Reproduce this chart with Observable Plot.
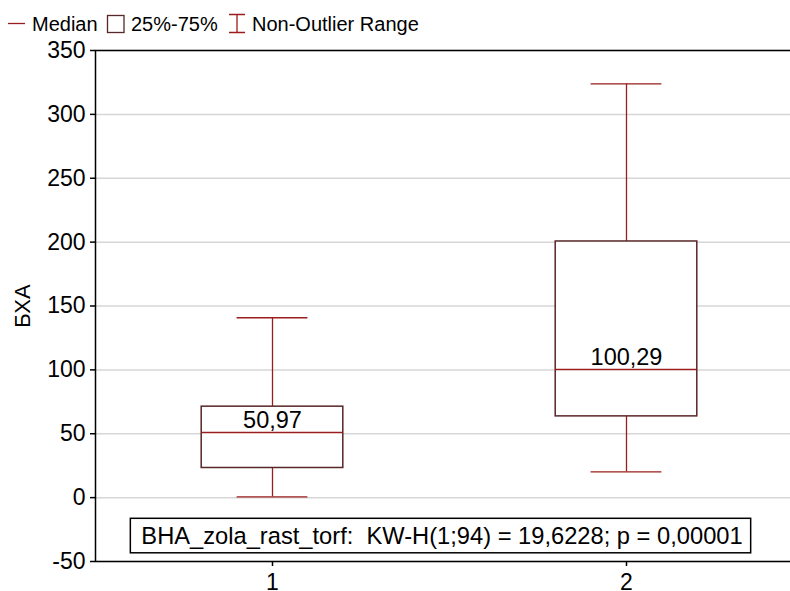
<!DOCTYPE html>
<html>
<head>
<meta charset="utf-8">
<script src="https://cdn.jsdelivr.net/npm/d3@7"></script>
<script src="https://cdn.jsdelivr.net/npm/@observablehq/plot@0.6"></script>
<style>
  html, body { margin: 0; padding: 0; background: white; overflow: hidden; }
  body { width: 790px; height: 591px; font-family: "Liberation Sans", Arial, sans-serif; }
  #legend { position: relative; width: 790px; height: 40px; }
  #chart svg { max-width: none !important; display: block; }
</style>
</head>
<body>
<div id="legend"></div>
<div id="chart"></div>
<script>
// ---- data ----
const categories   = [1, 2];
const medians      = [50.97, 100.29];
const medianLabels = ["50,97", "100,29"];
const q1           = [23.2, 63.6];
const q3           = [71.2, 200.5];
const whiskerLow   = [0.6, 20.2];
const whiskerHigh  = [140.8, 323.8];
const yTicks       = [-50, 0, 50, 100, 150, 200, 250, 300, 350];
const yLabel       = "БХА";
const annotation   = "BHA_zola_rast_torf:  KW-H(1;94) = 19,6228; p = 0,00001";
const legendItems  = ["Median", "25%-75%", "Non-Outlier Range"];

const RED = "#9a1c1c";
const BROWN = "#582626";

const boxes = categories.map((c, i) => ({
  cat: c, median: medians[i], label: medianLabels[i],
  q1: q1[i], q3: q3[i], lo: whiskerLow[i], hi: whiskerHigh[i]
}));

// ---- legend (above the plot) ----
const ns = "http://www.w3.org/2000/svg";
const lg = d3.select("#legend").append("svg")
  .attr("width", 790).attr("height", 40)
  .style("position", "absolute").style("left", 0).style("top", 0)
  .style("font-family", "'Liberation Sans', Arial, sans-serif").style("font-size", "20px");
lg.append("line").attr("x1", 8).attr("x2", 25).attr("y1", 23.5).attr("y2", 23.5)
  .attr("stroke", RED).attr("stroke-width", 1.3);
lg.append("text").attr("x", 32).attr("y", 30.7).text(legendItems[0]);
lg.append("rect").attr("x", 107.5).attr("y", 15.5).attr("width", 16.5).attr("height", 17)
  .attr("fill", "white").attr("stroke", BROWN).attr("stroke-width", 1.3);
lg.append("text").attr("x", 131).attr("y", 30.7).text(legendItems[1]);
lg.append("path").attr("d", "M229,14.5H245M237,14.5V32.5M229,32.5H245")
  .attr("fill", "none").attr("stroke", RED).attr("stroke-width", 1.3);
lg.append("text").attr("x", 252).attr("y", 30.7).text(legendItems[2]);

// ---- plot ----
const chart = Plot.plot({
  width: 790,
  height: 570,
  marginTop: 10,
  marginBottom: 49,
  marginLeft: 95,
  marginRight: -13,
  x: { type: "linear", domain: [0.5, 2.5] },
  y: { domain: [-50, 350] },
  style: { fontFamily: "'Liberation Sans', Arial, sans-serif", fontSize: "22px", color: "black", background: "white", overflow: "visible" },
  marks: [
    Plot.gridY(yTicks, { stroke: "#d6d6d6", strokeOpacity: 1, strokeWidth: 1.5 }),
    Plot.ruleX(boxes, { x: "cat", y1: "q3", y2: "hi", stroke: RED, strokeWidth: 1.3 }),
    Plot.ruleX(boxes, { x: "cat", y1: "lo", y2: "q1", stroke: RED, strokeWidth: 1.3 }),
    Plot.ruleY(boxes, { y: "hi", x1: d => d.cat - 0.1, x2: d => d.cat + 0.1, stroke: RED, strokeWidth: 1.3 }),
    Plot.ruleY(boxes, { y: "lo", x1: d => d.cat - 0.1, x2: d => d.cat + 0.1, stroke: RED, strokeWidth: 1.3 }),
    Plot.rect(boxes, { x1: d => d.cat - 0.2, x2: d => d.cat + 0.2, y1: "q1", y2: "q3", fill: "white", stroke: BROWN, strokeWidth: 1.5 }),
    Plot.ruleY(boxes, { y: "median", x1: d => d.cat - 0.2, x2: d => d.cat + 0.2, stroke: RED, strokeWidth: 1.3 }),
    Plot.text(boxes, { x: "cat", y: "median", text: "label", lineAnchor: "bottom", dy: -5, fontSize: 23.5, fill: "black" }),
    Plot.frame({ stroke: "black", strokeWidth: 1.5 }),
    Plot.axisY(yTicks, { tickSize: 5, tickPadding: 5, label: null, fontSize: 23, tickFormat: d => String(d), strokeWidth: 1.5 }),
    Plot.axisX(categories, { tickSize: 5, tickPadding: 7, label: null, fontSize: 23, tickFormat: d => String(d), strokeWidth: 1.5 }),
    Plot.text([yLabel], { frameAnchor: "left", textAnchor: "middle", text: d => d, dx: -73, rotate: -90, fontSize: 22, fill: "black" }),
    Plot.text([annotation], { frameAnchor: "bottom", text: d => d, dx: -7.5, dy: -17.7, lineAnchor: "bottom", fontSize: 23.7, fill: "black", className: "annot" })
  ]
});
document.getElementById("chart").appendChild(chart);

// box around the annotation, sized from the text itself
const allTexts = [...chart.querySelectorAll("text")];
const t = allTexts.find(el => el.textContent === annotation);
if (t) {
  t.style.whiteSpace = "pre";
  const bb = t.getBBox();
  const r = document.createElementNS(ns, "rect");
  r.setAttribute("x", bb.x - 11);
  r.setAttribute("y", bb.y - 4.5);
  r.setAttribute("width", bb.width + 19);
  r.setAttribute("height", bb.height + 8.5);
  r.setAttribute("fill", "white");
  r.setAttribute("stroke", "black");
  r.setAttribute("stroke-width", "1.5");
  if (t.getAttribute("transform")) r.setAttribute("transform", t.getAttribute("transform"));
  t.parentNode.insertBefore(r, t);
}
</script>
</body>
</html>
